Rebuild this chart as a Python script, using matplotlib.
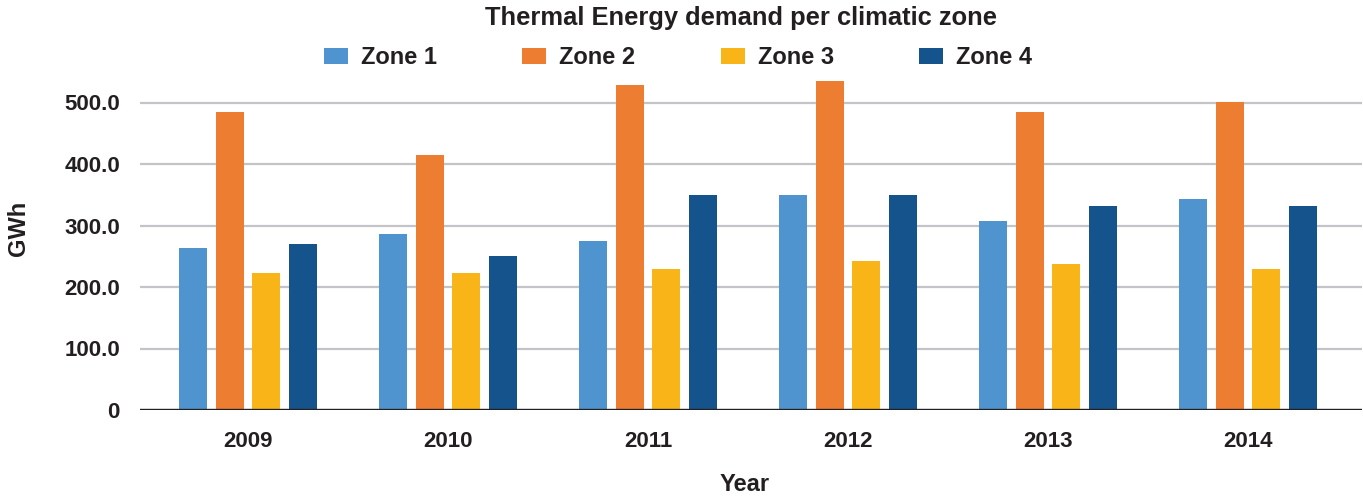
import matplotlib
matplotlib.use("Agg")
import matplotlib.pyplot as plt
import numpy as np

years = ["2009", "2010", "2011", "2012", "2013", "2014"]
zone1 = [263, 286, 275, 350, 307, 343]
zone2 = [485, 415, 528, 535, 485, 501]
zone3 = [223, 223, 229, 242, 237, 229]
zone4 = [270, 250, 350, 350, 332, 332]
series_names = ["Zone 1", "Zone 2", "Zone 3", "Zone 4"]
colors = ["#5094CF", "#ED7D31", "#F9B418", "#14538B"]
ytick_vals = [0, 100, 200, 300, 400, 500]
ytick_labels = ["0", "100.0", "200.0", "300.0", "400.0", "500.0"]

plt.rcParams['font.family'] = ['Liberation Sans', 'DejaVu Sans']
plt.rcParams['font.weight'] = 'bold'
txt = "#231f20"

W, H = 1363, 497
fig = plt.figure(figsize=(W / 100, H / 100), dpi=100)
ax = fig.add_axes([140 / W, (H - 410) / H, 1222 / W, 344.4 / H])

x = np.arange(len(years))
pitch = 0.1835
width = 0.14
data = [zone1, zone2, zone3, zone4]
handles = []
for i, (vals, name, c) in enumerate(zip(data, series_names, colors)):
    b = ax.bar(x + (i - 1.5) * pitch, vals, width, color=c, label=name, zorder=3)
    handles.append(b)

ax.set_xlim(-0.54, 5.57)
ax.set_ylim(0, 560)
ax.set_yticks(ytick_vals)
ax.set_yticklabels(ytick_labels)
ax.set_xticks(x)
ax.set_xticklabels(years)
for s in ax.spines.values():
    s.set_visible(False)
ax.yaxis.grid(True, color="#c4c4c8", linewidth=1.6, zorder=0)
ax.set_axisbelow(True)
ax.axhline(0, color=txt, linewidth=2.4, zorder=4)
ax.tick_params(axis='both', length=0, labelsize=16, labelcolor=txt)
ax.tick_params(axis='x', pad=15)
ax.tick_params(axis='y', pad=14.4)
for lab in ax.get_xticklabels() + ax.get_yticklabels():
    lab.set_fontweight('bold')

ax.set_xlabel("Year", fontsize=17, fontweight='bold', color=txt)
ax.xaxis.set_label_coords(0.495, -0.1815)
ax.set_ylabel("GWh", fontsize=17, fontweight='bold', color=txt)
ax.yaxis.set_label_coords(-0.09, 0.528)

fig.text(741 / W, 1 - 25 / H, "Thermal Energy demand per climatic zone",
         ha='center', va='baseline', fontsize=18.4, fontweight='bold', color=txt)

leg = ax.legend(handles=handles, loc='center', bbox_to_anchor=(678 / W, 1 - 58 / H),
                bbox_transform=fig.transFigure, ncol=4, frameon=False,
                prop={'size': 17, 'weight': 'bold'},
                handlelength=1.02, handleheight=0.68, handletextpad=0.55,
                columnspacing=3.6, borderpad=0, borderaxespad=0)
for t in leg.get_texts():
    t.set_color(txt)

fig.savefig("out.png", dpi=100)
